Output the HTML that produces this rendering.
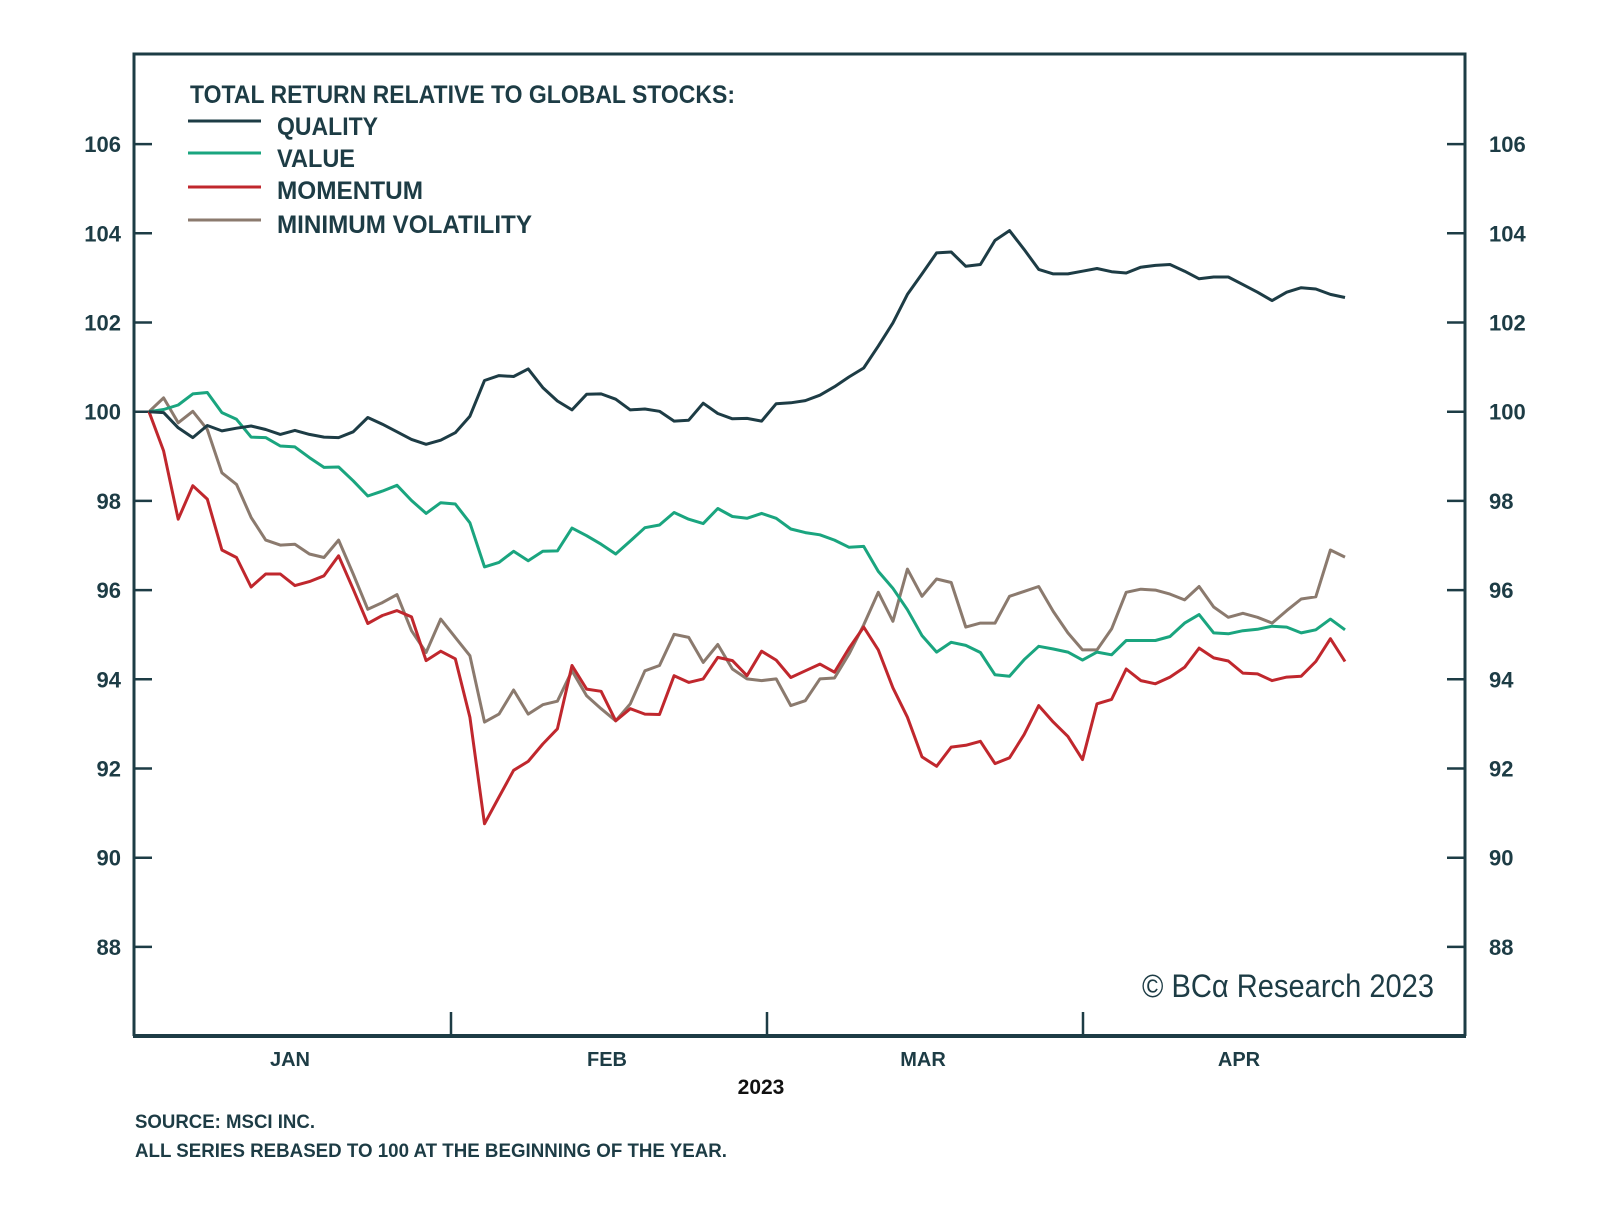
<!DOCTYPE html>
<html><head><meta charset="utf-8">
<style>
html,body{margin:0;padding:0;background:#fff;}
svg{display:block;}
text{font-family:"Liberation Sans",sans-serif;}
</style></head>
<body>
<svg id="chart" width="1600" height="1218" viewBox="0 0 1600 1218">
  <rect x="0" y="0" width="1600" height="1218" fill="#fff"/>
  <g id="axes"></g>
  <g id="series"></g>
  <g>
    <text x="190" y="103" font-size="25" font-weight="bold" fill="#1d3c45" textLength="545" lengthAdjust="spacingAndGlyphs">TOTAL RETURN RELATIVE TO GLOBAL STOCKS:</text>
    <line x1="188" y1="121" x2="261" y2="121" stroke="#1d3c45" stroke-width="3"/>
    <text x="277" y="135" font-size="25" font-weight="bold" fill="#1d3c45" textLength="101" lengthAdjust="spacingAndGlyphs">QUALITY</text>
    <line x1="188" y1="153" x2="261" y2="153" stroke="#1aa57f" stroke-width="3"/>
    <text x="277" y="167" font-size="25" font-weight="bold" fill="#1d3c45" textLength="78" lengthAdjust="spacingAndGlyphs">VALUE</text>
    <line x1="188" y1="187" x2="261" y2="187" stroke="#c0272d" stroke-width="3"/>
    <text x="277" y="199" font-size="25" font-weight="bold" fill="#1d3c45" textLength="146" lengthAdjust="spacingAndGlyphs">MOMENTUM</text>
    <line x1="188" y1="220" x2="261" y2="220" stroke="#8b7a6e" stroke-width="3"/>
    <text x="277" y="233" font-size="25" font-weight="bold" fill="#1d3c45" textLength="255" lengthAdjust="spacingAndGlyphs">MINIMUM VOLATILITY</text>
  </g>
  <text x="1434" y="997" font-family="Liberation Serif, serif" font-size="32" fill="#1d3c45" text-anchor="end" textLength="292" lengthAdjust="spacingAndGlyphs">© BCα Research 2023</text>
  <text x="761" y="1094" font-size="21" font-weight="bold" fill="#111" text-anchor="middle">2023</text>
  <text x="135" y="1128" font-size="19" font-weight="bold" fill="#1d3c45" textLength="180" lengthAdjust="spacingAndGlyphs">SOURCE: MSCI INC.</text>
  <text x="135" y="1157" font-size="19" font-weight="bold" fill="#1d3c45" textLength="592" lengthAdjust="spacingAndGlyphs">ALL SERIES REBASED TO 100 AT THE BEGINNING OF THE YEAR.</text>
</svg>
<script>
const yTicks = [88, 90, 92, 94, 96, 98, 100, 102, 104, 106];
const months = ["JAN", "FEB", "MAR", "APR"];
const quality = [100.00,99.98,99.64,99.42,99.69,99.57,99.63,99.68,99.60,99.49,99.58,99.49,99.43,99.42,99.55,99.87,99.72,99.55,99.38,99.27,99.36,99.53,99.90,100.70,100.81,100.79,100.96,100.54,100.24,100.04,100.39,100.40,100.28,100.04,100.06,100.01,99.79,99.81,100.19,99.96,99.84,99.85,99.79,100.18,100.20,100.25,100.37,100.56,100.78,100.98,101.47,101.99,102.63,103.09,103.56,103.58,103.26,103.30,103.84,104.06,103.64,103.19,103.09,103.09,103.15,103.21,103.14,103.11,103.24,103.28,103.30,103.15,102.98,103.02,103.02,102.85,102.68,102.49,102.68,102.78,102.75,102.63,102.56];
const value = [100.00,100.05,100.15,100.40,100.43,99.98,99.83,99.43,99.42,99.23,99.21,98.97,98.75,98.76,98.45,98.11,98.22,98.35,98.01,97.72,97.96,97.93,97.51,96.52,96.62,96.87,96.66,96.87,96.88,97.39,97.22,97.03,96.81,97.10,97.40,97.46,97.74,97.59,97.49,97.83,97.65,97.61,97.72,97.61,97.37,97.29,97.24,97.12,96.96,96.98,96.42,96.04,95.56,94.98,94.61,94.83,94.76,94.60,94.10,94.07,94.44,94.74,94.68,94.61,94.43,94.61,94.55,94.87,94.87,94.87,94.96,95.26,95.45,95.04,95.02,95.09,95.12,95.19,95.17,95.04,95.11,95.35,95.11];
const momentum = [100.00,99.12,97.59,98.34,98.04,96.90,96.73,96.07,96.36,96.36,96.10,96.19,96.32,96.77,96.02,95.25,95.43,95.54,95.40,94.42,94.63,94.46,93.15,90.76,91.36,91.96,92.16,92.55,92.89,94.31,93.78,93.73,93.07,93.34,93.22,93.21,94.08,93.93,94.01,94.49,94.42,94.08,94.63,94.43,94.04,94.19,94.34,94.16,94.70,95.17,94.66,93.81,93.15,92.26,92.05,92.48,92.52,92.61,92.11,92.24,92.76,93.41,93.04,92.72,92.20,93.45,93.55,94.23,93.97,93.90,94.05,94.27,94.70,94.48,94.41,94.14,94.12,93.97,94.05,94.07,94.40,94.91,94.40];
const minVol = [100.00,100.31,99.75,100.01,99.60,98.63,98.37,97.63,97.12,97.01,97.03,96.81,96.73,97.12,96.36,95.57,95.72,95.90,95.09,94.60,95.35,94.94,94.53,93.04,93.22,93.76,93.22,93.43,93.51,94.19,93.63,93.34,93.07,93.45,94.19,94.31,95.01,94.94,94.38,94.78,94.23,94.01,93.97,94.01,93.41,93.52,94.01,94.03,94.57,95.22,95.95,95.30,96.47,95.86,96.25,96.17,95.17,95.26,95.26,95.86,95.97,96.08,95.52,95.04,94.66,94.66,95.13,95.95,96.02,96.00,95.91,95.78,96.08,95.62,95.39,95.48,95.39,95.26,95.54,95.80,95.85,96.90,96.74];

const NS = "http://www.w3.org/2000/svg";
const L = 134, R = 1465, T = 54, B = 1036;
const X0 = 149, X1 = 1345;
const monthEdges = [134, 451, 767, 1083];
const monthWidth = 316;
function yScale(v) { return 411.7 - (v - 100) * 44.6; }
function xScale(i, n) { return X0 + i * (X1 - X0) / (n - 1); }
function mk(tag, attrs, parent) {
  const el = document.createElementNS(NS, tag);
  for (const k in attrs) el.setAttribute(k, attrs[k]);
  parent.appendChild(el);
  return el;
}
const axes = document.getElementById("axes");
const C = "#1d3c45";
const frame = mk("path", {d: `M${L},${B} L${L},${T} L${R},${T} L${R},${B}`, fill: "none", stroke: C, "stroke-width": 3}, axes);


const xAxis = mk("line", {x1: L - 1, y1: B, x2: R + 1, y2: B, stroke: C, "stroke-width": 4}, axes);


yTicks.forEach(v => {
  const y = yScale(v);
  const t1 = mk("line", {x1: L, y1: y, x2: L + 18, y2: y, stroke: C, "stroke-width": 2.5}, axes);
  
  
  const t2 = mk("line", {x1: R - 18, y1: y, x2: R, y2: y, stroke: C, "stroke-width": 2.5}, axes);
  
  
  const l1 = mk("text", {x: 121, y: y + 8, "text-anchor": "end", "font-size": 22, "font-weight": "bold", fill: C}, axes);
  l1.textContent = v;
  
  
  const l2 = mk("text", {x: 1489, y: y + 8, "text-anchor": "start", "font-size": 22, "font-weight": "bold", fill: C}, axes);
  l2.textContent = v;
  
  
});
months.forEach((m, k) => {
  if (k > 0) {
    const tk = mk("line", {x1: monthEdges[k], y1: B - 24, x2: monthEdges[k], y2: B, stroke: C, "stroke-width": 2.5}, axes);
    
    
  }
  const cx = monthEdges[k] + monthWidth / 2 - 2;
  const lb = mk("text", {x: cx, y: 1066, "text-anchor": "middle", "font-size": 20, "font-weight": "bold", fill: C}, axes);
  lb.textContent = m;
  
  
});
const sg = document.getElementById("series");
function drawSeries(arr, color, name) {
  const d = arr.map((v, i) => (i ? "L" : "M") + xScale(i, arr.length).toFixed(1) + "," + yScale(v).toFixed(1)).join(" ");
  const p = mk("path", {d: d, fill: "none", stroke: color, "stroke-width": 3, "stroke-linejoin": "round"}, sg);
  
  
}
drawSeries(minVol, "#8b7a6e", "minimum-volatility-line");
drawSeries(momentum, "#c0272d", "momentum-line");
drawSeries(value, "#1aa57f", "value-line");
drawSeries(quality, "#1d3c45", "quality-line");
</script>
</body></html>
